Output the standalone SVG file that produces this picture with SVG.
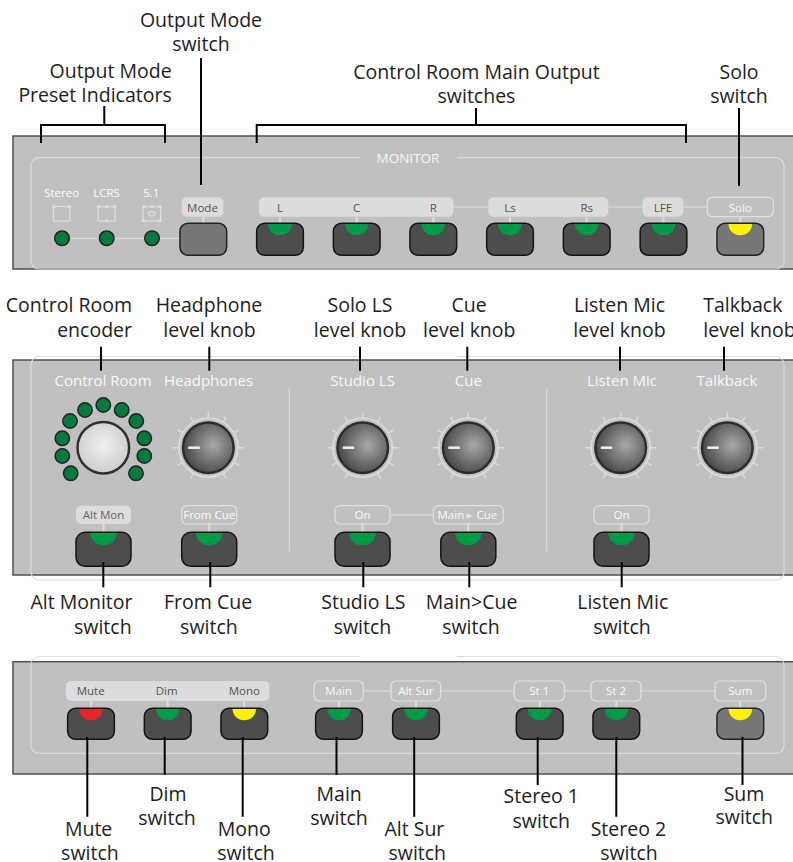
<svg xmlns="http://www.w3.org/2000/svg" xmlns:xlink="http://www.w3.org/1999/xlink" width="793" height="862" viewBox="0 0 793 862">
<style>
.call{font-family:"Open Sans","Liberation Sans",sans-serif;font-size:19.5px;fill:#1d1d1d}
.mid{text-anchor:middle}.end{text-anchor:end}
.lead{stroke:#000;stroke-width:2;fill:none}
.panel{fill:#c0c0c0;stroke:#505050;stroke-width:1.5}
.inner{fill:none;stroke:#dadada;stroke-width:1.2}
.pl{font-family:"Open Sans","Liberation Sans",sans-serif;font-size:15px;fill:#f7f7f7;text-anchor:middle}
.bl{font-family:"Open Sans","Liberation Sans",sans-serif;font-size:11.5px;text-anchor:middle}
.st{text-anchor:start}
.dk{fill:#555}.wt{fill:#fafafa}
.btn{fill:#4d4d4d;stroke:#141414;stroke-width:1.5}
.btl{fill:#777;stroke:#222;stroke-width:1.5}
.g{fill:#009b48}.y{fill:#fff200}.r{fill:#e8262a}
.boxf{fill:#dcdcdc}
.boxo{fill:none;stroke:#e0e0e0;stroke-width:1.2}
.wire{stroke:#dadada;stroke-width:1.2;fill:none}
.stem{stroke:#dcdcdc;stroke-width:2}
.ring{fill:#007a3d;stroke:#222;stroke-width:1.5}
.icon{fill:none;stroke:#dedede;stroke-width:1.2}
</style>
<defs>
<radialGradient id="kg" cx="0.6" cy="0.45" r="0.6"><stop offset="0" stop-color="#a8a8a8"/><stop offset="1" stop-color="#484848"/></radialGradient>
<radialGradient id="eg" cx="0.5" cy="0.45" r="0.55"><stop offset="0" stop-color="#f0f0f0"/><stop offset="1" stop-color="#cdcdcd"/></radialGradient>
<rect id="bS" x="-23.35" y="0" width="46.7" height="32" rx="8"/>
<rect id="bB" x="-23.35" y="0" width="46.7" height="31" rx="8"/>
<rect id="bM" x="-27.5" y="0" width="55" height="34" rx="9"/>
<path id="lS" d="M-11.8,0.8 A11.8,11.2 0 0 0 11.8,0.8 Z"/>
<path id="lM" d="M-13.3,0.8 A13.3,12.2 0 0 0 13.3,0.8 Z"/>
<g id="knob">
<circle r="29.5" fill="none" stroke="#d9d9d9" stroke-width="2"/>
<path d="M0,-29.5V-35.5M14.75,-25.55L17.75,-30.74M25.55,-14.75L30.74,-17.75M29.5,0H35.5M25.55,14.75L30.74,17.75M14.75,25.55L17.75,30.74M-14.75,-25.55L-17.75,-30.74M-25.55,-14.75L-30.74,-17.75M-29.5,0H-35.5M-25.55,14.75L-30.74,17.75M-14.75,25.55L-17.75,30.74" stroke="#dcdcdc" stroke-width="1.4" fill="none"/>
<circle r="25.3" fill="url(#kg)" stroke="#2d2d2d" stroke-width="2.5"/>
<line x1="-20" y1="0" x2="-8.5" y2="0" stroke="#f2f2f2" stroke-width="2.5"/>
</g>
</defs>
<rect width="793" height="862" fill="#fff"/>

<!-- ===== TOP PANEL ===== -->
<g id="panel-monitor">
<rect class="panel" x="13" y="136" width="800" height="133"/>
<path class="inner" d="M360,157.7H39A8,8 0 0 0 31,165.7V261A8,8 0 0 0 39,269H776A8,8 0 0 0 784,261V165.7A8,8 0 0 0 776,157.7H457"/>
<text x="408" y="163" font-family="Open Sans, Liberation Sans, sans-serif" font-size="13.5" fill="#f7f7f7" text-anchor="middle">MONITOR</text>
</g>

<g id="preset-indicators">
<line class="wire" x1="62" y1="238.3" x2="180" y2="238.3"/>
<text class="bl wt" x="61.7" y="196.5">Stereo</text>
<text class="bl wt" x="106.5" y="196.5">LCRS</text>
<text class="bl wt" x="151.3" y="196.5">5.1</text>
<rect class="icon" x="53.5" y="206.5" width="16.5" height="14.5"/>
<rect class="icon" x="98" y="206.5" width="17" height="14.5"/>
<rect class="icon" x="143" y="206.5" width="17.5" height="14.5"/>
<g fill="#dedede">
<rect x="52.5" y="205.5" width="3" height="2.5"/><rect x="68" y="205.5" width="3" height="2.5"/>
<rect x="97" y="205.5" width="3" height="2.5"/><rect x="113" y="205.5" width="3" height="2.5"/><rect x="105" y="205.5" width="3" height="2.5"/><rect x="105" y="219.5" width="3" height="2.5"/>
<rect x="142" y="205.5" width="3" height="2.5"/><rect x="158.5" y="205.5" width="3" height="2.5"/><rect x="142" y="219.5" width="3" height="2.5"/><rect x="158.5" y="219.5" width="3" height="2.5"/><rect x="150.3" y="205.5" width="3" height="2.5"/>
</g>
<rect class="icon" x="148.8" y="211.8" width="6" height="4" rx="1"/>
<circle class="ring" cx="62" cy="238.3" r="7.3"/>
<circle class="ring" cx="106.7" cy="238.3" r="7.3"/>
<circle class="ring" cx="152" cy="238.3" r="7.3"/>
</g>

<g id="mode-switch">
<rect class="boxf" x="181.7" y="197.3" width="41.7" height="19.4" rx="5"/>
<text class="bl dk" x="202.5" y="211.5">Mode</text>
<line class="stem" x1="203.3" y1="216.7" x2="203.3" y2="223.5"/>
<use href="#bS" x="203.3" y="223.3" class="btl"/>
</g>

<g id="main-output-switches">
<line class="wire" x1="453.3" y1="207" x2="488.3" y2="207"/>
<line class="wire" x1="608.3" y1="207" x2="642.7" y2="207"/>
<line class="wire" x1="683.3" y1="207" x2="707.3" y2="207"/>
<rect class="boxf" x="259" y="197.3" width="194.3" height="19.4" rx="5"/>
<rect class="boxf" x="488.3" y="197.3" width="120" height="19.4" rx="5"/>
<rect class="boxf" x="642.7" y="197.3" width="40.6" height="19.4" rx="5"/>
<text class="bl dk" x="280" y="211.5">L</text>
<text class="bl dk" x="356.7" y="211.5">C</text>
<text class="bl dk" x="433.3" y="211.5">R</text>
<text class="bl dk" x="510" y="211.5">Ls</text>
<text class="bl dk" x="586.7" y="211.5">Rs</text>
<text class="bl dk" x="663" y="211.5">LFE</text>
<g class="stem">
<line x1="280" y1="216.7" x2="280" y2="223.5"/><line x1="356.7" y1="216.7" x2="356.7" y2="223.5"/><line x1="433.3" y1="216.7" x2="433.3" y2="223.5"/><line x1="510" y1="216.7" x2="510" y2="223.5"/><line x1="586.7" y1="216.7" x2="586.7" y2="223.5"/><line x1="663.5" y1="216.7" x2="663.5" y2="223.5"/>
</g>
<use href="#bS" x="280" y="223.3" class="btn"/><use href="#lS" x="280" y="223.3" class="g"/>
<use href="#bS" x="356.7" y="223.3" class="btn"/><use href="#lS" x="356.7" y="223.3" class="g"/>
<use href="#bS" x="433.3" y="223.3" class="btn"/><use href="#lS" x="433.3" y="223.3" class="g"/>
<use href="#bS" x="510" y="223.3" class="btn"/><use href="#lS" x="510" y="223.3" class="g"/>
<use href="#bS" x="586.7" y="223.3" class="btn"/><use href="#lS" x="586.7" y="223.3" class="g"/>
<use href="#bS" x="663.5" y="223.3" class="btn"/><use href="#lS" x="663.5" y="223.3" class="g"/>
</g>

<g id="solo-switch">
<rect class="boxo" x="707.3" y="197.3" width="66" height="19.4" rx="5"/>
<text class="bl wt" x="740.3" y="211.5">Solo</text>
<line class="stem" x1="740.3" y1="216.7" x2="740.3" y2="223.5"/>
<use href="#bS" x="740.3" y="223.3" class="btl"/><use href="#lS" x="740.3" y="223.3" class="y"/>
</g>

<!-- ===== MIDDLE PANEL ===== -->
<g id="panel-levels">
<rect class="panel" x="13" y="360" width="800" height="215"/>
<path class="inner" d="M360,356.5H39A8,8 0 0 0 31,364.5V572A8,8 0 0 0 39,580H776A8,8 0 0 0 784,572V364.5A8,8 0 0 0 776,356.5H457"/>
<line class="wire" x1="289.3" y1="388" x2="289.3" y2="551.7"/>
<line class="wire" x1="546.7" y1="388" x2="546.7" y2="551.7"/>
<text class="pl" x="103" y="386">Control Room</text>
<text class="pl" x="208.5" y="386">Headphones</text>
<text class="pl" x="362.5" y="386">Studio LS</text>
<text class="pl" x="468.3" y="386">Cue</text>
<text class="pl" x="622" y="386">Listen Mic</text>
<text class="pl" x="727" y="386">Talkback</text>
</g>

<g id="control-room-encoder">
<circle class="ring" cx="103.3" cy="405" r="7.2"/>
<circle class="ring" cx="85" cy="410" r="7.2"/>
<circle class="ring" cx="121.7" cy="410" r="7.2"/>
<circle class="ring" cx="70" cy="421" r="7.2"/>
<circle class="ring" cx="136.3" cy="421" r="7.2"/>
<circle class="ring" cx="62.3" cy="438.3" r="7.2"/>
<circle class="ring" cx="144.3" cy="438.3" r="7.2"/>
<circle class="ring" cx="62.3" cy="456" r="7.2"/>
<circle class="ring" cx="144.3" cy="456" r="7.2"/>
<circle class="ring" cx="70.7" cy="473.3" r="7.2"/>
<circle class="ring" cx="136" cy="473.3" r="7.2"/>
<circle cx="103.3" cy="447.7" r="25.8" fill="url(#eg)" stroke="#303030" stroke-width="2.5"/>
</g>

<g id="knob-headphones"><use href="#knob" x="208.3" y="447.7"/></g>
<g id="knob-studio-ls"><use href="#knob" x="362.7" y="447.7"/></g>
<g id="knob-cue"><use href="#knob" x="468.3" y="447.7"/></g>
<g id="knob-listen-mic"><use href="#knob" x="620.7" y="447.7"/></g>
<g id="knob-talkback"><use href="#knob" x="727.3" y="447.7"/></g>

<g id="alt-mon-switch">
<rect class="boxf" x="76" y="505.7" width="55" height="18.3" rx="5"/>
<text class="bl" fill="#666" x="103.5" y="519">Alt Mon</text>
<line class="stem" x1="103.5" y1="524" x2="103.5" y2="532.5"/>
<use href="#bM" x="103.5" y="532.3" class="btn"/><use href="#lM" x="103.5" y="532.3" class="g"/>
</g>
<g id="from-cue-switch">
<rect class="boxo" x="181.7" y="505.7" width="55" height="18.3" rx="5"/>
<text class="bl wt" x="209.2" y="519">From Cue</text>
<line class="stem" x1="209.2" y1="524" x2="209.2" y2="532.5"/>
<use href="#bM" x="209.2" y="532.3" class="btn"/><use href="#lM" x="209.2" y="532.3" class="g"/>
</g>
<g id="studio-ls-switch">
<line class="wire" x1="390" y1="514.8" x2="433.3" y2="514.8"/>
<rect class="boxo" x="335" y="505.7" width="55" height="18.3" rx="5"/>
<text class="bl wt" x="362.5" y="519">On</text>
<line class="stem" x1="362.5" y1="524" x2="362.5" y2="532.5"/>
<use href="#bM" x="362.5" y="532.3" class="btn"/><use href="#lM" x="362.5" y="532.3" class="g"/>
</g>
<g id="main-cue-switch">
<rect class="boxo" x="433.3" y="505.7" width="70" height="18.3" rx="5"/>
<text class="bl wt st" x="437.5" y="519">Main</text>
<text x="469.3" y="518" font-family="DejaVu Sans, sans-serif" font-size="7.5" fill="#e4e4e4" text-anchor="middle">▶</text>
<text class="bl wt st" x="476.5" y="519">Cue</text>
<line class="stem" x1="468.3" y1="524" x2="468.3" y2="532.5"/>
<use href="#bM" x="468.3" y="532.3" class="btn"/><use href="#lM" x="468.3" y="532.3" class="g"/>
</g>
<g id="listen-mic-switch">
<rect class="boxo" x="594" y="505.7" width="55" height="18.3" rx="5"/>
<text class="bl wt" x="621.5" y="519">On</text>
<line class="stem" x1="621.5" y1="524" x2="621.5" y2="532.5"/>
<use href="#bM" x="621.5" y="532.3" class="btn"/><use href="#lM" x="621.5" y="532.3" class="g"/>
</g>

<!-- ===== BOTTOM PANEL ===== -->
<g id="panel-output">
<rect class="panel" x="13" y="661.7" width="800" height="112.3"/>
<path class="inner" d="M360,656.5H39A8,8 0 0 0 31,664.5V745.3A8,8 0 0 0 39,753.3H776A8,8 0 0 0 784,745.3V664.5A8,8 0 0 0 776,656.5H457"/>
<line class="wire" x1="363.3" y1="691" x2="391" y2="691"/>
<line class="wire" x1="440.7" y1="691" x2="514.3" y2="691"/>
<line class="wire" x1="564.3" y1="691" x2="591" y2="691"/>
<line class="wire" x1="641" y1="691" x2="715" y2="691"/>
<rect class="boxf" x="66" y="681" width="203.3" height="20" rx="5"/>
</g>
<g id="mute-switch">
<text class="bl dk" x="90.7" y="695">Mute</text>
<line class="stem" x1="91" y1="701" x2="91" y2="708.5"/>
<use href="#bB" x="91" y="708.3" class="btn"/><use href="#lS" x="91" y="708.3" class="r"/>
</g>
<g id="dim-switch">
<text class="bl dk" x="166.7" y="695">Dim</text>
<line class="stem" x1="167.7" y1="701" x2="167.7" y2="708.5"/>
<use href="#bB" x="167.7" y="708.3" class="btn"/><use href="#lS" x="167.7" y="708.3" class="g"/>
</g>
<g id="mono-switch">
<text class="bl dk" x="244.3" y="695">Mono</text>
<line class="stem" x1="244.3" y1="701" x2="244.3" y2="708.5"/>
<use href="#bB" x="244.3" y="708.3" class="btn"/><use href="#lS" x="244.3" y="708.3" class="y"/>
</g>
<g id="main-switch">
<rect class="boxo" x="314" y="681" width="49.3" height="20" rx="5"/>
<text class="bl wt" x="338.7" y="695">Main</text>
<line class="stem" x1="339" y1="701" x2="339" y2="708.5"/>
<use href="#bB" x="339" y="708.3" class="btn"/><use href="#lS" x="339" y="708.3" class="g"/>
</g>
<g id="alt-sur-switch">
<rect class="boxo" x="391" y="681" width="49.7" height="20" rx="5"/>
<text class="bl wt" x="415.8" y="695">Alt Sur</text>
<line class="stem" x1="416" y1="701" x2="416" y2="708.5"/>
<use href="#bB" x="416" y="708.3" class="btn"/><use href="#lS" x="416" y="708.3" class="g"/>
</g>
<g id="stereo1-switch">
<rect class="boxo" x="514.3" y="681" width="50" height="20" rx="5"/>
<text class="bl wt" x="539.3" y="695">St 1</text>
<line class="stem" x1="539.7" y1="701" x2="539.7" y2="708.5"/>
<use href="#bB" x="539.7" y="708.3" class="btn"/><use href="#lS" x="539.7" y="708.3" class="g"/>
</g>
<g id="stereo2-switch">
<rect class="boxo" x="591" y="681" width="50" height="20" rx="5"/>
<text class="bl wt" x="616" y="695">St 2</text>
<line class="stem" x1="616.3" y1="701" x2="616.3" y2="708.5"/>
<use href="#bB" x="616.3" y="708.3" class="btn"/><use href="#lS" x="616.3" y="708.3" class="g"/>
</g>
<g id="sum-switch">
<rect class="boxo" x="715" y="681" width="50.7" height="20" rx="5"/>
<text class="bl wt" x="740.3" y="695">Sum</text>
<line class="stem" x1="740.3" y1="701" x2="740.3" y2="708.5"/>
<use href="#bB" x="740.3" y="708.3" class="btl"/><use href="#lS" x="740.3" y="708.3" class="y"/>
</g>

<!-- ===== CALLOUT LEADERS ===== -->
<g id="connectors" class="lead">
<path d="M41,143V125H165V143M104.3,106V125"/>
<path d="M201,58V185"/>
<path d="M256.7,143V125H686V143M476,108V125"/>
<path d="M739,108V186"/>
<path d="M101,346.7V370.7M209.3,346.7V370.7M360,346.7V370.7M467.3,346.7V370.7M620,346.7V370.7M724,346.7V370.7"/>
<path d="M103.3,562V587.3M210.3,562V587.3M363.3,562V587.3M469.3,562V587.3M621.7,562V587.3"/>
<path d="M87.3,737V816.7M164.7,737V775M242.7,737V816.7M336.5,737V775M414.2,737V816.7M537.7,737V785M616.3,737V816.7M742.5,737V785"/>
</g>

<!-- ===== CALLOUT TEXTS ===== -->
<g id="callout-labels" class="call">
<text class="mid" x="201" y="26.5">Output Mode</text>
<text class="mid" x="201" y="51">switch</text>
<text class="end" x="171.7" y="78">Output Mode</text>
<text class="end" x="171.7" y="102">Preset Indicators</text>
<text class="mid" x="476.5" y="78.5">Control Room Main Output</text>
<text class="mid" x="476.5" y="103">switches</text>
<text class="mid" x="739" y="78.5">Solo</text>
<text class="mid" x="739" y="103">switch</text>

<text class="end" x="132" y="312">Control Room</text>
<text class="end" x="132" y="337">encoder</text>
<text class="mid" x="209" y="312">Headphone</text>
<text class="mid" x="209.5" y="337">level knob</text>
<text class="mid" x="360" y="312">Solo LS</text>
<text class="mid" x="360" y="337">level knob</text>
<text class="mid" x="469" y="312">Cue</text>
<text class="mid" x="469.3" y="337">level knob</text>
<text class="mid" x="619.5" y="312">Listen Mic</text>
<text class="mid" x="619.5" y="337">level knob</text>
<text x="703.3" y="312">Talkback</text>
<text x="703.3" y="337">level knob</text>

<text class="end" x="132.5" y="609.3">Alt Monitor</text>
<text class="end" x="131.6" y="634">switch</text>
<text class="mid" x="208.1" y="609.3">From Cue</text>
<text class="mid" x="208.9" y="634">switch</text>
<text class="mid" x="363.3" y="609.3">Studio LS</text>
<text class="mid" x="362.5" y="634">switch</text>
<text class="mid" x="471.6" y="609.3">Main&gt;Cue</text>
<text class="mid" x="471" y="634">switch</text>
<text class="mid" x="622.8" y="609.3">Listen Mic</text>
<text class="mid" x="622" y="634">switch</text>

<text class="mid" x="88.6" y="835.5">Mute</text>
<text class="mid" x="89.9" y="860">switch</text>
<text class="mid" x="168" y="801">Dim</text>
<text class="mid" x="167" y="825">switch</text>
<text class="mid" x="244.3" y="835.8">Mono</text>
<text class="mid" x="246" y="860">switch</text>
<text class="mid" x="339.2" y="801">Main</text>
<text class="mid" x="339" y="825">switch</text>
<text class="mid" x="414.4" y="835.8">Alt Sur</text>
<text class="mid" x="417.3" y="860">switch</text>
<text class="mid" x="541.3" y="803.3">Stereo 1</text>
<text class="mid" x="541.3" y="828">switch</text>
<text class="mid" x="628.4" y="835.8">Stereo 2</text>
<text class="mid" x="629" y="860">switch</text>
<text class="mid" x="744" y="800.7">Sum</text>
<text class="mid" x="744.3" y="824">switch</text>
</g>
</svg>
